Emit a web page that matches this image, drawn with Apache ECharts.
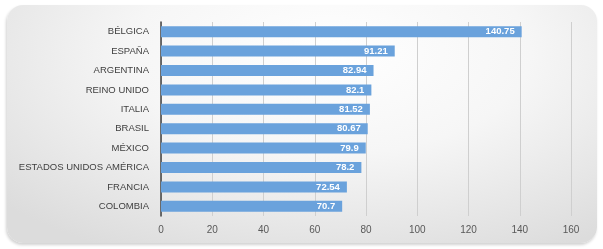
<!DOCTYPE html>
<html><head><meta charset="utf-8">
<script src="https://cdn.jsdelivr.net/npm/echarts@6/dist/echarts.min.js"></script>
<style>
html,body{margin:0;padding:0;background:#fff;width:603px;height:249px;overflow:hidden;}
#panel{position:absolute;left:7px;top:5px;width:590px;height:238px;border-radius:16px;
background:radial-gradient(ellipse 75% 95% at 55% 20%, #ffffff 0%, #f6f6f6 45%, #dcdcdc 100%);
box-shadow:-1px 2px 3px rgba(0,0,0,0.18);}
#main{position:absolute;left:0;top:0;width:603px;height:249px;}
</style></head>
<body><div id="panel"></div><div id="main"></div>
<script>
const categories = ["BÉLGICA","ESPAÑA","ARGENTINA","REINO UNIDO","ITALIA","BRASIL","MÉXICO","ESTADOS UNIDOS AMÉRICA","FRANCIA","COLOMBIA"];
const values = [140.75, 91.21, 82.94, 82.1, 81.52, 80.67, 79.9, 78.2, 72.54, 70.7];
const xTicks = [0, 20, 40, 60, 80, 100, 120, 140, 160];

const chart = echarts.init(document.getElementById('main'), null, {renderer:'canvas'});
chart.setOption({
  backgroundColor: 'transparent',
  animation: false,
  grid: {left: 161, right: 32, top: 22, bottom: 33},
  xAxis: {
    type: 'value', min: xTicks[0], max: xTicks[xTicks.length-1], interval: 20,
    axisLine: {show: false}, axisTick: {show: false},
    splitLine: {show: true, lineStyle: {color: '#cfcfcf', width: 1}},
    axisLabel: {color: '#595959', fontSize: 10, fontFamily: 'Liberation Sans Narrow, Liberation Sans, sans-serif', margin: 9}
  },
  yAxis: {
    type: 'category', data: categories, inverse: true,
    axisLine: {show: true, lineStyle: {color: '#404040', width: 1.5}},
    axisTick: {show: false},
    axisLabel: {color: '#404040', fontSize: 9.5, fontFamily: 'Liberation Sans Narrow, Liberation Sans, sans-serif', margin: 12}
  },
  series: [{
    type: 'bar', data: values, barWidth: 11,
    itemStyle: {color: '#6aa2dc'},
    label: {show: true, position: 'insideRight', color: '#fff', fontWeight: 'bold', fontSize: 9.5,
            fontFamily: 'Liberation Sans Narrow, Liberation Sans, sans-serif', offset: [-2, 0]}
  }]
});
</script></body></html>
